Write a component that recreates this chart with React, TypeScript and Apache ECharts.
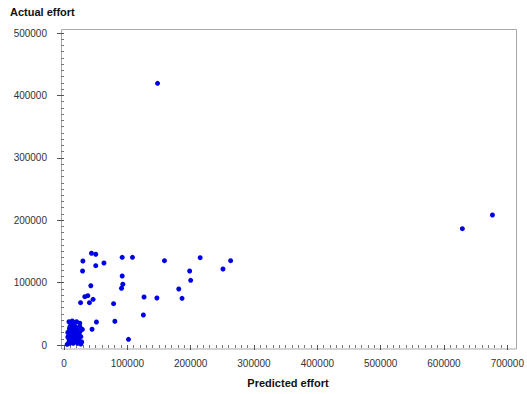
import React, { useEffect, useRef } from "react";
import * as echarts from "echarts";

const xTitle = "Predicted effort";
const yTitle = "Actual effort";

// [predicted, actual]
const mainPoints: number[][] = [
  [43400, 147000], [50100, 145400], [29800, 134600], [29300, 118600], [50100, 127100],
  [63100, 131400], [91900, 140500], [108100, 140500], [158600, 135100], [215000, 139900],
  [263100, 135100], [251000, 121800], [198400, 118600], [200000, 103700], [91900, 110600],
  [92900, 97300], [90800, 90900], [42300, 95000], [181200, 89700], [186400, 74800],
  [146700, 75300], [126400, 76900], [32900, 77400], [37600, 79000], [45900, 73200],
  [26200, 67800], [40200, 67800], [78300, 66200], [125300, 48100], [80300, 38000],
  [51200, 36900], [44300, 25200], [101800, 9100],
  [147700, 419400], [676500, 208300], [629000, 186400],
];

const clusterPoints: number[][] = [
  [7800, 37300], [13000, 38500], [19900, 37300], [25000, 34800],
  [9400, 29300], [18300, 29300], [25100, 29300], [12000, 22900], [17200, 22900],
  [25100, 21300], [9400, 16000], [14600, 16000], [19900, 16000], [26600, 13300],
  [7800, 9100], [13000, 9100], [18300, 9100], [23500, 8000], [9400, 2700],
  [14600, 2700], [21500, 2700], [26600, 1600], [11000, 33000], [16000, 31000],
  [21000, 26000], [6000, 20000], [11000, 12000], [17000, 5000], [22000, 12000],
  [8000, 5000], [12000, 19000], [20000, 20000], [6000, 13000], [24000, 17000],
  [5000, 1000], [10000, 24000], [15000, 36000], [28000, 5000], [29000, 25000],
  [8500, 26000], [13500, 27000], [16500, 13000], [10500, 6000], [19500, 6500],
];

const xMin = 0, xMax = 700000, xStep = 100000;
const yMin = 0, yMax = 500000, yStep = 100000;

export default function App() {
  const ref = useRef<HTMLDivElement>(null);
  useEffect(() => {
    if (!ref.current) return;
    const chart = echarts.init(ref.current, undefined, { renderer: "svg" });
    const font = "'Liberation Sans', Arial, sans-serif";
    const plain = (v: number) => String(Math.round(v));
    chart.setOption({
      animation: false,
      backgroundColor: "#ffffff",
      grid: { left: 64, right: 15, top: 33, bottom: 49, containLabel: false },
      xAxis: {
        type: "value",
        min: xMin,
        max: xMax,
        interval: xStep,
        offset: 4,
        axisLine: { show: false },
        axisTick: { show: true, length: 5, inside: false, lineStyle: { color: "#555" } },
        minorTick: { show: true, splitNumber: 10, length: 3, lineStyle: { color: "#777" } },
        splitLine: { show: false },
        axisLabel: { margin: 9, color: "#333", fontSize: 10, fontFamily: font, showMaxLabel: true, formatter: plain },
      },
      yAxis: {
        type: "value",
        min: yMin,
        max: yMax,
        interval: yStep,
        offset: 3,
        axisLine: { show: false },
        axisTick: { show: true, length: 7, inside: false, lineStyle: { color: "#555" } },
        minorTick: { show: true, splitNumber: 10, length: 3, lineStyle: { color: "#777" } },
        splitLine: { show: false },
        axisLabel: { margin: 14, color: "#333", fontSize: 10, fontFamily: font, formatter: plain },
      },
      graphic: [
        {
          type: "rect",
          shape: { x: 61.5, y: 29.5, width: 455, height: 319.5 },
          style: { fill: "none", stroke: "#a8a8a8", lineWidth: 1 },
          silent: true,
          z: 0,
        },
        {
          type: "text",
          left: 10,
          top: 6,
          style: { text: yTitle, font: `bold 11px ${font}`, fill: "#111" },
        },
        {
          type: "text",
          x: 288,
          y: 383,
          style: { text: xTitle, font: `bold 11px ${font}`, fill: "#111", align: "center", verticalAlign: "middle" },
        },
      ],
      series: [
        {
          type: "scatter",
          data: [...clusterPoints, ...mainPoints],
          symbol: "circle",
          symbolSize: 5,
          itemStyle: { color: "#0000e6", opacity: 1 },
          z: 5,
        },
      ],
    });
    return () => chart.dispose();
  }, []);
  return (
    <div
      ref={ref}
      style={{ position: "fixed", left: 0, top: 0, width: 527, height: 394, background: "#fff" }}
    />
  );
}
